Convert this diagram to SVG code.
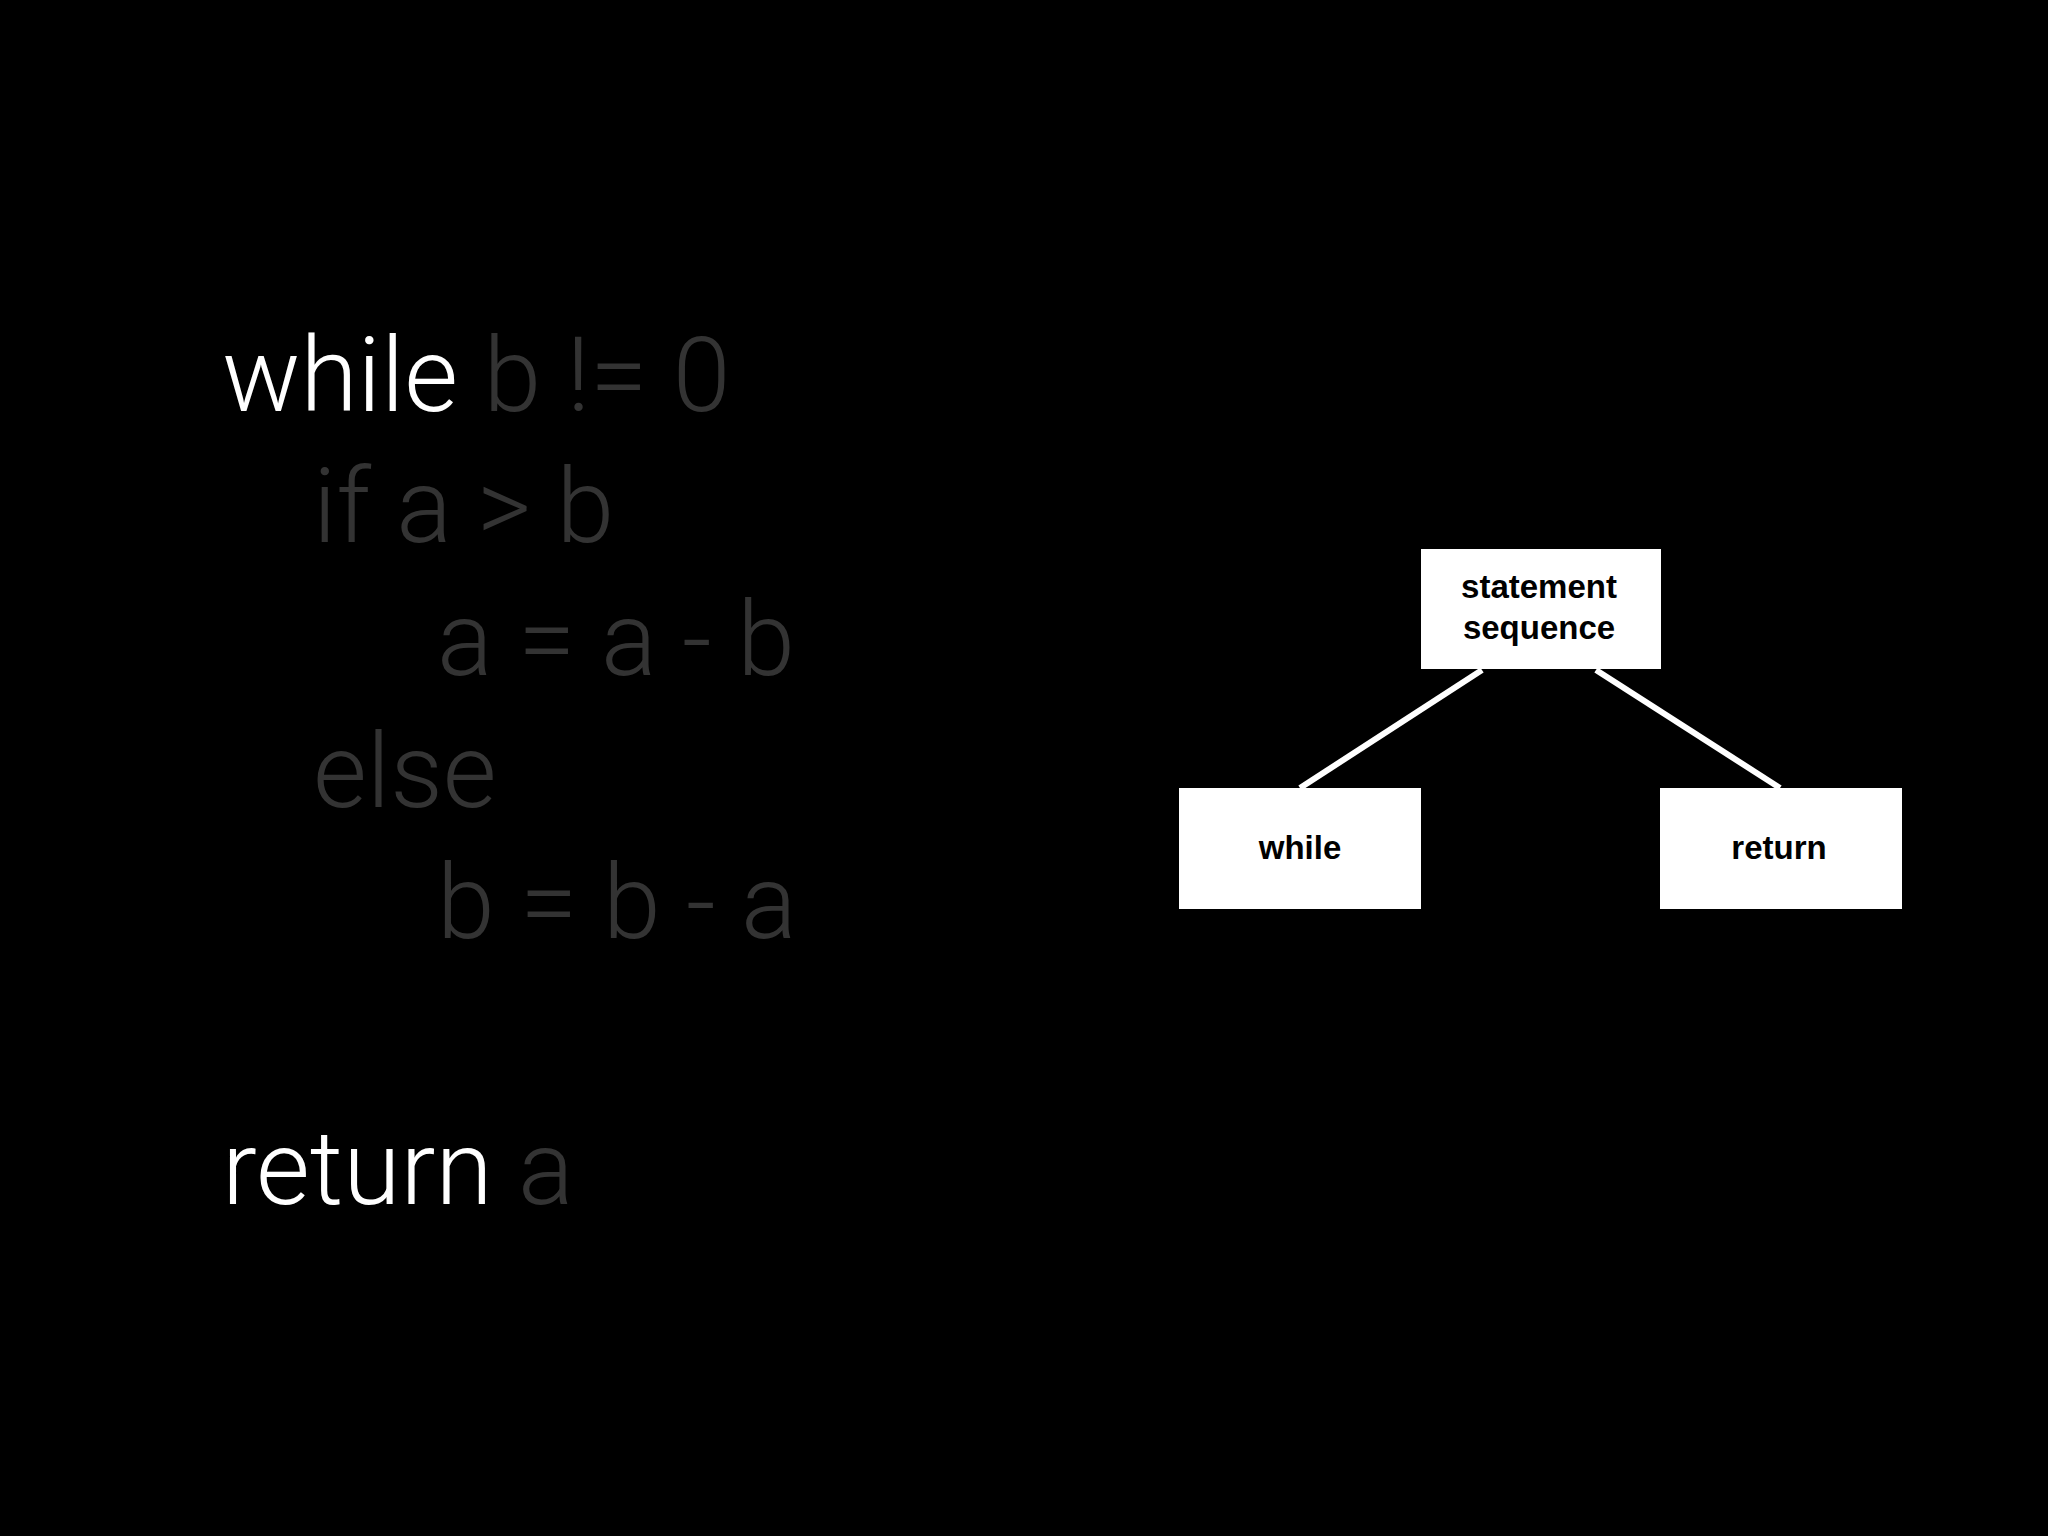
<svg xmlns="http://www.w3.org/2000/svg" width="2048" height="1536" viewBox="0 0 2048 1536">
<style>
.code{font-family:Roboto,"Liberation Sans",sans-serif;font-weight:300;font-size:104px}
.w{fill:#ffffff}.g{fill:#333333}
.box{fill:#ffffff}
.lbl{font-family:"Liberation Sans",Arial,sans-serif;font-weight:bold;font-size:33px;fill:#000;text-anchor:middle}
.edge{stroke:#ffffff;stroke-width:6}
</style>
<rect width="2048" height="1536" fill="#000"/>
<g id="code">
<text class="code" x="222" y="411" xml:space="preserve"><tspan class="w">while</tspan><tspan class="g"> b != 0</tspan></text>
<text class="code g" x="313" y="542">if a &gt; b</text>
<text class="code g" x="437" y="675">a = a - b</text>
<text class="code g" x="313" y="807">else</text>
<text class="code g" x="437" y="938">b = b - a</text>
<text class="code" x="222" y="1204" xml:space="preserve"><tspan class="w">return</tspan><tspan class="g"> a</tspan></text>
</g>
<g id="connectors">
<line class="edge" x1="1482" y1="670" x2="1300" y2="788"/>
<line class="edge" x1="1596" y1="670" x2="1780" y2="788"/>
</g>
<g id="node-seq">
<rect class="box" x="1421" y="549" width="240" height="120"/>
<text class="lbl" x="1539" y="598">statement</text>
<text class="lbl" x="1539" y="639">sequence</text>
</g>
<g id="node-while">
<rect class="box" x="1179" y="788" width="242" height="121"/>
<text class="lbl" x="1300" y="859">while</text>
</g>
<g id="node-return">
<rect class="box" x="1660" y="788" width="242" height="121"/>
<text class="lbl" x="1779" y="859">return</text>
</g>
</svg>
